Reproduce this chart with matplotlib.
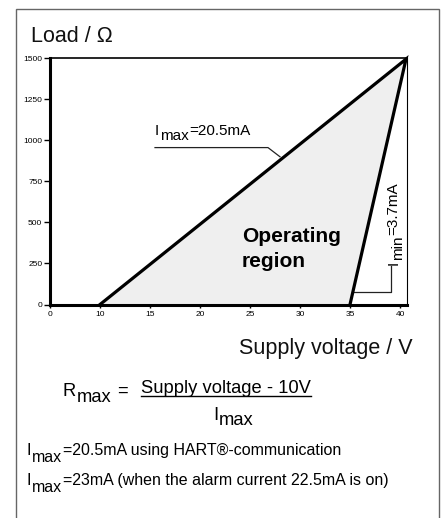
import numpy as np
import matplotlib
matplotlib.use('Agg')
import matplotlib.pyplot as plt
import matplotlib.transforms as mtransforms
from matplotlib.lines import Line2D
from matplotlib.patches import Rectangle

plt.rcParams['font.family'] = ['Liberation Sans', 'DejaVu Sans']

# ---------------- data ----------------
x_ticks = [0, 10, 15, 20, 25, 30, 35, 40]
x_tick_labels = ['0', '10', '15', '20', '25', '30', '35', '40']
y_ticks = [0, 250, 500, 750, 1000, 1250, 1500]
y_tick_labels = ['0', '250', '500', '750', '1000', '1250', '1500']

# operating region corners (supply voltage / V, load / Ohm)
region_u = [10, 40.6, 35]
region_r = [0, 1495, 0]

# leader lines of the annotations
imax_leader_u = [15.5, 26.8, 28.0]
imax_leader_r = [956, 956, 900]
imin_leader_u = [35.3, 39.05, 39.05]
imin_leader_r = [78, 78, 235]

# ---------------- figure ----------------
W, H = 442, 518
fig = plt.figure(figsize=(W / 100, H / 100), dpi=100)


def fx(px):
    return px / W


def fy(py):
    return 1 - py / H


ax = fig.add_axes([fx(50), fy(304.5), fx(406.7) - fx(50), fy(58.3) - fy(304.5)])


def fwd(x):
    x = np.asarray(x, float)
    return np.where(x < 10, 5 + x / 2, x)


def inv(x):
    x = np.asarray(x, float)
    return np.where(x < 10, (x - 5) * 2, x)


ax.set_xscale('function', functions=(fwd, inv))
ax.set_xlim(0, 40.67)
ax.set_ylim(0, 1500)

ax.fill(region_u, region_r, color='#efefef', lw=0, zorder=1)
ax.plot(region_u, region_r, color='k', lw=2.3, solid_joinstyle='miter',
        clip_on=False, zorder=3)
ax.plot(imax_leader_u, imax_leader_r, color='#222222', lw=0.9, clip_on=False, zorder=2)
ax.plot(imin_leader_u, imin_leader_r, color='#222222', lw=0.9, clip_on=False, zorder=2)

ax.spines['left'].set_linewidth(2.2)
ax.spines['bottom'].set_linewidth(2.2)
ax.spines['top'].set_linewidth(1.2)
ax.spines['right'].set_linewidth(0.8)

ax.set_xticks(x_ticks)
ax.set_xticklabels(x_tick_labels)
ax.set_yticks(y_ticks)
ax.set_yticklabels(y_tick_labels)
ax.minorticks_off()
ax.tick_params(axis='x', direction='out', length=2.5, width=1, labelsize=6, pad=2.5)
ax.tick_params(axis='y', direction='out', length=4, width=1, labelsize=6, pad=1.5)

renderer = fig.canvas.get_renderer()


def rich(x, y, parts, size, transform, rotation=0, color='k'):
    adv = 0.0
    last = None
    for s, shift in parts:
        if rotation == 0:
            dx, dy = adv, -shift
        else:
            dx, dy = shift, adv
        tr = mtransforms.offset_copy(transform, fig=fig, x=dx, y=dy, units='dots')
        t = fig.text(x, y, s, transform=tr, fontsize=size, rotation=rotation,
                     rotation_mode='anchor', ha='left', va='baseline', color=color)
        bb = t.get_window_extent(renderer)
        adv += (bb.width if rotation == 0 else bb.height) + 0.5
        last = t
    return last


# annotations in the plot
rich(15.5, 1033, [('I', 0), ('max', 5), ('=20.5mA', 0)], 11, ax.transData)
rich(39.75, 243, [('I', 0), ('min', 5), ('=3.7mA', 0)], 11, ax.transData, rotation=90)
ax.text(24.2, 383, 'Operating', fontsize=15, weight='bold', ha='left', va='baseline')
ax.text(24.2, 230, 'region', fontsize=15, weight='bold', ha='left', va='baseline')

# axis titles
fig.text(fx(30.5), fy(41.5), 'Load / Ω', fontsize=15.5, ha='left', va='baseline', color='#111111')
fig.text(fx(413), fy(354), 'Supply voltage / V', fontsize=15.5, ha='right', va='baseline', color='#111111')

# formula
rich(fx(63), fy(396), [('R', 0), ('max', 6)], 13.2, fig.transFigure)
fig.text(fx(117), fy(396), '=', fontsize=13.2, ha='left', va='baseline')
num = fig.text(fx(141), fy(393), 'Supply voltage - 10V', fontsize=13.2, ha='left', va='baseline')
nb = num.get_window_extent(renderer)
fig.add_artist(Line2D([nb.x0 / W, nb.x1 / W], [fy(395.5), fy(395.5)],
                      transform=fig.transFigure, color='k', lw=1.0))
rich(fx(213), fy(420), [('I', 0), ('max', 5)], 13.2, fig.transFigure)

# notes
rich(fx(27), fy(455), [('I', 0), ('max', 7), ('=20.5mA using HART®-communication', 0)], 11.5, fig.transFigure)
rich(fx(27), fy(485), [('I', 0), ('max', 7), ('=23mA (when the alarm current 22.5mA is on)', 0)], 11.5, fig.transFigure)

# frame
fig.add_artist(Rectangle((fx(16), fy(540)), fx(439.3) - fx(16), fy(9.3) - fy(540),
                         fill=False, ec='#666666', lw=1.0, transform=fig.transFigure))

fig.savefig('out.png', dpi=100)
